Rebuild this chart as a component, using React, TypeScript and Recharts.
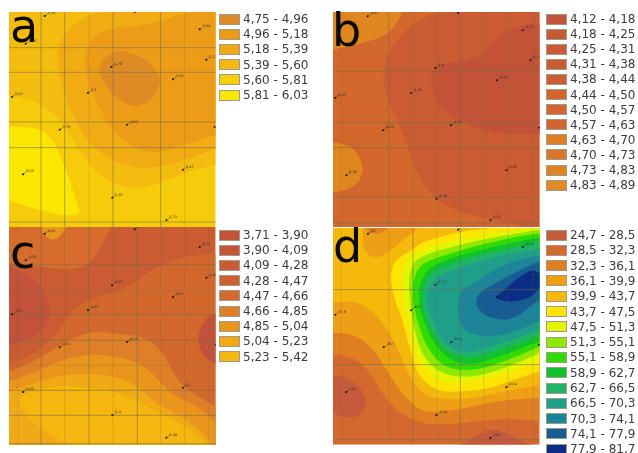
import React from "react";
import { ComposedChart, Area, Scatter, XAxis, YAxis, ReferenceLine } from "recharts";

type Pt = [number, number, number];
type Layer = { color: string; pts: Pt[] };

// Legend classes
const legendA = ["4,75 - 4,96", "4,96 - 5,18", "5,18 - 5,39", "5,39 - 5,60", "5,60 - 5,81", "5,81 - 6,03"];
const legendAColors = ["#df8b24", "#ec9b18", "#f1a913", "#f3ba0e", "#f7d006", "#fae600"];
const legendB = ["4,12 - 4,18", "4,18 - 4,25", "4,25 - 4,31", "4,31 - 4,38", "4,38 - 4,44", "4,44 - 4,50", "4,50 - 4,57", "4,57 - 4,63", "4,63 - 4,70", "4,70 - 4,73", "4,73 - 4,83", "4,83 - 4,89"];
const legendBColors = ["#c2533a", "#c55a37", "#c95c35", "#c85c33", "#cb5e32", "#d2652e", "#d2662e", "#d0642e", "#dc7f25", "#d9762a", "#de8224", "#e08a24"];
const legendC = ["3,71 - 3,90", "3,90 - 4,09", "4,09 - 4,28", "4,28 - 4,47", "4,47 - 4,66", "4,66 - 4,85", "4,85 - 5,04", "5,04 - 5,23", "5,23 - 5,42"];
const legendCColors = ["#c2523a", "#c65537", "#c85a35", "#cd5f31", "#d56a2c", "#df7f28", "#ea951c", "#f1a916", "#f5b60e"];
const legendD = ["24,7 - 28,5", "28,5 - 32,3", "32,3 - 36,1", "36,1 - 39,9", "39,9 - 43,7", "43,7 - 47,5", "47,5 - 51,3", "51,3 - 55,1", "55,1 - 58,9", "58,9 - 62,7", "62,7 - 66,5", "66,5 - 70,3", "70,3 - 74,1", "74,1 - 77,9", "77,9 - 81,7"];
const legendDColors = ["#c65a3c", "#d4682e", "#e07e22", "#ee9f15", "#f5b90c", "#fde402", "#e5f400", "#8ee800", "#2fdc00", "#12c12c", "#1fb46a", "#1f9f8a", "#1c859a", "#175c92", "#0b2d85"];

// Panel a contours [x, upper y, lower y]
const aLayers: Layer[] = [
  { color: "#f6cc0a", pts: [[28, 35, 680], [648, 35, 680]] },
  { color: "#fae600", pts: [[28, 378, 600], [80, 380, 618], [130, 388, 632], [165, 425, 640], [190, 485, 645], [212, 545, 645], [226, 590, 645], [234, 615, 640], [238, 628, 632]] },
  { color: "#f4bc0e", pts: [[28, 35, 285], [90, 35, 295], [140, 35, 320], [190, 35, 365], [230, 35, 435], [270, 35, 500], [330, 35, 550], [400, 35, 568], [480, 35, 552], [560, 35, 512], [648, 35, 495]] },
  { color: "#f1ab13", pts: [[172, 165, 172], [178, 130, 215], [195, 100, 290], [220, 75, 345], [250, 55, 405], [290, 35, 450], [360, 35, 495], [450, 35, 508], [550, 35, 482], [648, 35, 445]] },
  { color: "#ed9c17", pts: [[256, 175, 185], [260, 140, 230], [275, 115, 275], [300, 95, 325], [340, 85, 395], [420, 75, 455], [480, 65, 458], [520, 50, 442], [560, 35, 430], [648, 35, 405]] },
  { color: "#df8b24", pts: [[298, 210, 212], [303, 190, 232], [318, 170, 255], [340, 155, 285], [370, 150, 305], [400, 160, 320], [435, 174, 312], [460, 195, 295], [476, 220, 265], [482, 240, 244]] },
];

// Panel b contours
const bLayers: Layer[] = [
  { color: "#d3682c", pts: [[38, 35, 680], [658, 35, 680]] },
  { color: "#e0861f", pts: [[38, 35, 148], [100, 35, 135], [180, 35, 115], [220, 35, 85], [245, 35, 38]] },
  { color: "#e0861f", pts: [[38, 427, 575], [70, 430, 572], [100, 445, 560], [118, 470, 540], [126, 500, 515], [128, 506, 509]] },
  { color: "#ca5c33", pts: [[190, 225, 240], [194, 190, 275], [205, 160, 310], [225, 125, 345], [250, 95, 410], [300, 55, 545], [350, 35, 605], [420, 35, 635], [480, 35, 652], [560, 35, 668], [610, 35, 678], [658, 35, 680]] },
  { color: "#c25337", pts: [[333, 235, 245], [337, 212, 275], [350, 198, 310], [380, 188, 335], [430, 182, 368], [490, 168, 392], [530, 105, 398], [600, 72, 402], [658, 68, 402]] },
];

// Panel c contours
const cLayers: Layer[] = [
  { color: "#ca5c33", pts: [[28, 5, 660], [648, 5, 660]] },
  { color: "#d66d2c", pts: [[28, 5, 112], [150, 5, 130], [250, 5, 135], [285, 5, 95], [335, 5, 8]] },
  { color: "#ea951c", pts: [[128, 5, 18], [145, 5, 42], [175, 5, 45], [198, 5, 8]] },
  { color: "#c2523a", pts: [[28, 122, 362], [70, 140, 350], [110, 165, 330], [138, 205, 305], [148, 240, 275], [150, 255, 262]] },
  { color: "#d3682c", pts: [[28, 415, 660], [100, 390, 660], [170, 335, 660], [220, 240, 660], [300, 210, 660], [390, 190, 660], [460, 125, 660], [560, 90, 660], [648, 85, 660]] },
  { color: "#c2523a", pts: [[596, 335, 345], [600, 310, 370], [615, 285, 395], [630, 272, 408], [648, 265, 415]] },
  { color: "#df7f28", pts: [[28, 440, 660], [100, 410, 660], [170, 365, 660], [260, 315, 660], [340, 325, 660], [440, 330, 660], [500, 390, 660], [530, 470, 660], [590, 510, 660], [648, 545, 660]] },
  { color: "#ea951c", pts: [[28, 468, 660], [100, 445, 660], [170, 410, 660], [250, 385, 660], [350, 390, 660], [440, 420, 660], [480, 470, 660], [520, 510, 660], [590, 540, 660], [648, 590, 660]] },
  { color: "#f1a916", pts: [[28, 498, 660], [100, 475, 660], [200, 445, 660], [300, 445, 660], [400, 465, 660], [460, 530, 660], [520, 560, 660], [590, 600, 660], [640, 660, 660]] },
  { color: "#f5b60e", pts: [[60, 522, 535], [70, 512, 555], [90, 500, 585], [150, 485, 625], [200, 480, 660], [300, 490, 660], [400, 515, 660], [480, 565, 660], [560, 600, 660], [615, 650, 660]] },
];

// Panel d contours
const dLayers: Layer[] = [
  { color: "#d4682e", pts: [[38, 10, 660], [658, 10, 660]] },
  { color: "#e07e22", pts: [[38, 10, 390], [100, 10, 395], [150, 10, 440], [190, 10, 520], [260, 10, 585], [350, 10, 605], [450, 10, 592], [560, 10, 580], [658, 10, 590]] },
  { color: "#ee9f15", pts: [[38, 10, 325], [100, 10, 325], [160, 10, 370], [200, 10, 440], [250, 10, 515], [300, 10, 560], [350, 10, 565], [450, 10, 548], [550, 10, 525], [658, 10, 520]] },
  { color: "#f5b90c", pts: [[38, 10, 235], [110, 10, 225], [170, 10, 270], [220, 10, 340], [250, 10, 420], [290, 10, 495], [340, 10, 525], [450, 10, 525], [540, 10, 502], [658, 10, 480]] },
  { color: "#ee9f15", pts: [[128, 10, 60], [140, 10, 95], [180, 10, 102], [220, 10, 72], [260, 10, 35], [290, 10, 14]] },
  { color: "#e07e22", pts: [[138, 10, 12], [148, 10, 28], [180, 10, 28], [202, 10, 12]] },
  { color: "#fde402", pts: [[212, 150, 165], [217, 125, 200], [228, 105, 240], [250, 90, 290], [280, 72, 430], [310, 50, 470], [350, 40, 498], [400, 25, 503], [500, 10, 495], [560, 10, 472], [658, 10, 440]] },
  { color: "#e5f400", pts: [[246, 150, 175], [252, 120, 240], [264, 100, 310], [290, 82, 405], [340, 62, 465], [400, 45, 478], [500, 28, 465], [600, 12, 432], [658, 10, 410]] },
  { color: "#8ee800", pts: [[266, 165, 195], [272, 130, 260], [282, 112, 310], [300, 97, 385], [350, 78, 445], [430, 58, 460], [500, 42, 450], [600, 24, 412], [658, 15, 385]] },
  { color: "#2fdc00", pts: [[278, 185, 215], [284, 150, 265], [296, 128, 305], [315, 112, 360], [360, 96, 425], [430, 74, 440], [500, 56, 430], [600, 33, 392], [658, 26, 365]] },
  { color: "#12c12c", pts: [[296, 200, 230], [302, 170, 265], [316, 140, 305], [345, 118, 365], [385, 104, 405], [440, 86, 422], [500, 72, 410], [600, 48, 372], [658, 38, 350]] },
  { color: "#1fb46a", pts: [[308, 210, 235], [313, 180, 265], [326, 152, 300], [352, 131, 355], [395, 118, 390], [440, 101, 403], [500, 87, 390], [600, 63, 352], [658, 53, 330]] },
  { color: "#1f9f8a", pts: [[322, 210, 235], [327, 188, 265], [342, 165, 300], [366, 147, 350], [400, 136, 375], [440, 121, 387], [500, 102, 372], [600, 80, 337], [658, 73, 315]] },
  { color: "#1c859a", pts: [[412, 245, 250], [416, 215, 285], [426, 195, 310], [450, 182, 325], [480, 165, 335], [530, 128, 337], [600, 103, 314], [658, 93, 290]] },
  { color: "#175c92", pts: [[468, 228, 232], [472, 212, 252], [488, 197, 270], [530, 172, 286], [580, 146, 286], [620, 126, 252], [658, 110, 224]] },
  { color: "#0b2d85", pts: [[526, 216, 219], [545, 203, 228], [575, 175, 232], [610, 147, 226], [640, 132, 212], [658, 148, 190]] },
  { color: "#c65a3c", pts: [[38, 455, 565], [60, 452, 575], [90, 465, 580], [115, 485, 575], [132, 510, 555], [138, 528, 535]] },
  { color: "#c65a3c", pts: [[425, 659, 660], [470, 632, 660], [510, 608, 660], [560, 625, 660], [610, 652, 660], [630, 659, 660]] },
];

// Sampling points [x, y, value label]
type St = [number, number, string];
const aStations: St[] = [[135, 47, "5,36"], [405, 35, "5,12"], [600, 87, "5,06"], [78, 130, "5,38"], [620, 178, "5,17"], [335, 200, "4,78"], [520, 237, "5,05"], [265, 277, "5,2"], [37, 290, "5,62"], [382, 373, "4,99"], [180, 388, "5,76"], [645, 380, "5,1"], [70, 522, "6,03"], [550, 508, "5,47"], [338, 592, "5,67"], [500, 660, "5,73"]];
const bStations: St[] = [[142, 48, "4,82"], [413, 38, "4,3"], [607, 90, "4,21"], [630, 180, "4,16"], [345, 203, "4,4"], [530, 240, "4,14"], [272, 278, "4,38"], [45, 292, "4,52"], [392, 375, "4,25"], [188, 390, "4,55"], [656, 382, "4,2"], [78, 525, "4,89"], [558, 510, "4,43"], [348, 595, "4,38"], [510, 660, "4,51"]];
const cStations: St[] = [[135, 25, "4,96"], [405, 12, "4,34"], [600, 65, "4,28"], [78, 105, "4,55"], [620, 157, "4,45"], [337, 180, "4,25"], [520, 215, "4,57"], [265, 255, "4,51"], [37, 267, "3,87"], [382, 350, "4,76"], [180, 366, "4,91"], [648, 358, "3,71"], [70, 500, "5,06"], [550, 487, "4,7"], [338, 570, "5,3"], [500, 637, "5,34"]];
const dStations: St[] = [[143, 27, "30"], [413, 15, "48,1"], [607, 67, "62,4"], [630, 158, "81,7"], [345, 180, "57,3"], [530, 217, "78,4"], [272, 257, "46,7"], [45, 270, "37,8"], [392, 353, "69,4"], [190, 368, "36,7"], [656, 360, "66"], [78, 502, "24,7"], [558, 488, "40,4"], [348, 572, "33,8"], [510, 640, "26,5"]];

const aGrid = { x: [124, 195, 340, 483], y: [142, 216, 365, 442, 665], fx: [268, 555], fy: [] as number[] };
const bGrid = { x: [205, 420], y: [213, 367, 442, 590, 668], fx: [62, 277, 350, 490, 563, 638], fy: [] as number[] };
const cGrid = { x: [124, 268, 413], y: [118, 268, 345, 495, 570, 655], fx: [55, 195, 340, 483, 555, 628], fy: [195, 420] };
const dGrid = { x: [278, 420], y: [195, 420, 645], fx: [62, 205, 350, 490, 563, 638], fy: [] as number[] };

const FONT = "'DejaVu Sans', sans-serif";

function Station(props: any) {
  const { cx, cy, payload } = props;
  return (
    <g>
      <circle cx={cx} cy={cy} r={1} fill="#111" />
      <line x1={cx} y1={cy} x2={cx + 3} y2={cy - 2} stroke="#333" strokeWidth={0.5} />
      <text x={cx + 3} y={cy - 2} fontSize={3.5} fill="#333" fontFamily={FONT}>{payload.label}</text>
    </g>
  );
}

function Panel({ left, top, xd, yd, layers, grid, stations }: { left: number; top: number; xd: [number, number]; yd: [number, number]; layers: Layer[]; grid: any; stations: St[] }) {
  const width = (xd[1] - xd[0]) / 3;
  const height = (yd[1] - yd[0]) / 3;
  return (
    <div style={{ position: "absolute", left, top }}>
      <ComposedChart width={width} height={height} margin={{ top: 0, right: 0, bottom: 0, left: 0 }} style={{ overflow: "visible" }}>
        <XAxis type="number" dataKey="x" domain={xd} hide allowDataOverflow />
        <YAxis type="number" dataKey="y" domain={yd} reversed hide allowDataOverflow />
        {layers.map((l, i) => (
          <Area
            key={i}
            data={l.pts.map(([x, lo, hi]) => ({ x, lo, hi }))}
            dataKey={(d: any) => [d.lo, d.hi]}
            type="basis"
            fill={l.color}
            fillOpacity={1}
            stroke="none"
            dot={false}
            activeDot={false}
            isAnimationActive={false}
          />
        ))}
        {grid.x.map((v: number) => <ReferenceLine key={"x" + v} x={v} stroke="#6f6a50" strokeOpacity={0.55} strokeWidth={1} />)}
        {grid.y.map((v: number) => <ReferenceLine key={"y" + v} y={v} stroke="#6f6a50" strokeOpacity={0.55} strokeWidth={1} />)}
        {grid.fx.map((v: number) => <ReferenceLine key={"fx" + v} x={v} stroke="#6f6a50" strokeOpacity={0.22} strokeWidth={1} />)}
        {grid.fy.map((v: number) => <ReferenceLine key={"fy" + v} y={v} stroke="#6f6a50" strokeOpacity={0.22} strokeWidth={1} />)}
        <Scatter
          data={stations.map(([x, y, label]) => ({ x, y, label }))}
          dataKey="y"
          shape={Station}
          isAnimationActive={false}
        />
      </ComposedChart>
    </div>
  );
}

function LegendBox({ left, top, step, labels, colors }: { left: number; top: number; step: number; labels: string[]; colors: string[] }) {
  return (
    <>
      {labels.map((t, i) => (
        <div key={t} style={{ position: "absolute", left, top: top + i * step - 6, height: 12, display: "flex", alignItems: "center", whiteSpace: "nowrap" }}>
          <div style={{ width: 21, height: 11, background: colors[i], border: "1px solid #a09a88", boxSizing: "border-box" }} />
          <span style={{ marginLeft: 3, fontSize: 12, lineHeight: "12px", fontFamily: FONT, color: "#3c3c3c" }}>{t}</span>
        </div>
      ))}
    </>
  );
}

function Letter({ ch, left, baseline }: { ch: string; left: number; baseline: number }) {
  return (
    <div style={{ position: "absolute", left, top: baseline - 39, fontSize: 46, lineHeight: 1, fontFamily: FONT, color: "#0a0a0a" }}>{ch}</div>
  );
}

export default function App() {
  return (
    <div style={{ position: "absolute", left: 0, top: 0, width: 638, height: 453, overflow: "hidden", background: "#fff" }}>
      <div style={{ position: "absolute", inset: 0, filter: "blur(0.6px)" }}>
        <Panel left={9} top={12} xd={[28, 648]} yd={[35, 680]} layers={aLayers} grid={aGrid} stations={aStations} />
        <Panel left={333} top={12} xd={[38, 658]} yd={[35, 680]} layers={bLayers} grid={bGrid} stations={bStations} />
        <Panel left={9} top={227} xd={[28, 648]} yd={[5, 660]} layers={cLayers} grid={cGrid} stations={cStations} />
        <Panel left={333} top={228} xd={[38, 658]} yd={[10, 660]} layers={dLayers} grid={dGrid} stations={dStations} />
        <LegendBox left={219} top={19} step={15.2} labels={legendA} colors={legendAColors} />
        <LegendBox left={546} top={19} step={15.1} labels={legendB} colors={legendBColors} />
        <LegendBox left={219} top={235} step={15.2} labels={legendC} colors={legendCColors} />
        <LegendBox left={546} top={235} step={15.3} labels={legendD} colors={legendDColors} />
        <Letter ch="a" left={10} baseline={42} />
        <Letter ch="b" left={332} baseline={46} />
        <Letter ch="c" left={10} baseline={268} />
        <Letter ch="d" left={333} baseline={262} />
      </div>
    </div>
  );
}
